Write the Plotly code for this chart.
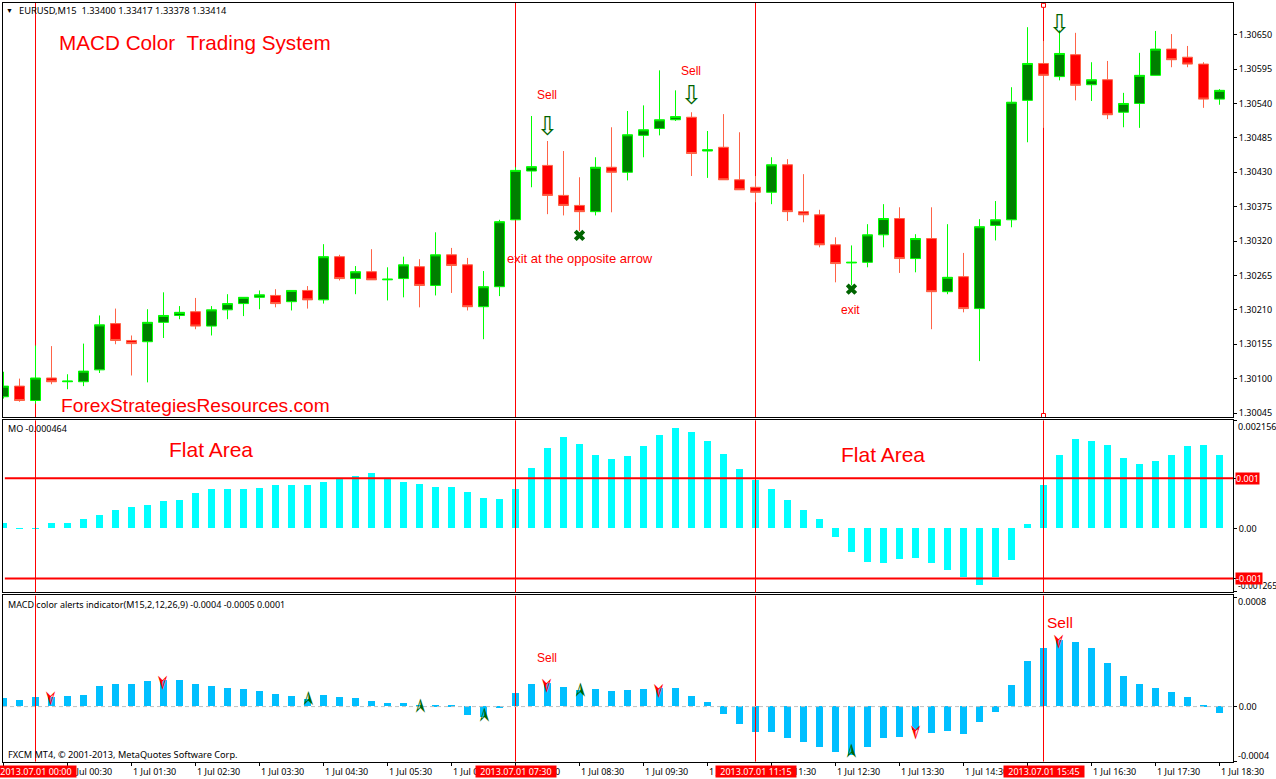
import plotly.graph_objects as go
from plotly.subplots import make_subplots

W, H = 1276, 779
PLOT_H = 776.4  # plot area comes out a bit shorter than the window

# candle data, one value per 15 min bar
opens = [1.30071,1.30088,1.30065,1.30101,1.30095,1.30095,1.30114,1.30188,1.30161,1.30159,1.30190,1.30201,1.30207,1.30184,1.30210,1.30220,1.30230,1.30233,1.30223,1.30241,
         1.30226,1.30295,1.30260,1.30271,1.30258,1.30260,1.30279,1.30249,1.30298,1.30282,1.30215,1.30247,1.30354,1.30432,1.30441,1.30393,1.30377,1.30367,1.30438,1.30430,
         1.30489,1.30500,1.30514,1.30518,1.30464,1.30470,1.30418,1.30406,1.30398,1.30442,1.30367,1.30362,1.30314,1.30285,1.30286,1.30330,1.30356,1.30292,1.30324,1.30239,
         1.30263,1.30212,1.30345,1.30354,1.30545,1.30604,1.30583,1.30618,1.30570,1.30578,1.30526,1.30540,1.30585,1.30627,1.30614,1.30603,1.30547]
highs = [1.30111,1.30100,1.30153,1.30152,1.30107,1.30156,1.30201,1.30212,1.30169,1.30211,1.30238,1.30216,1.30229,1.30216,1.30235,1.30230,1.30241,1.30243,1.30241,1.30248,
         1.30315,1.30298,1.30280,1.30307,1.30278,1.30295,1.30291,1.30334,1.30309,1.30293,1.30272,1.30354,1.30438,1.30520,1.30480,1.30464,1.30422,1.30454,1.30502,1.30528,
         1.30537,1.30593,1.30561,1.30526,1.30496,1.30523,1.30494,1.30424,1.30454,1.30451,1.30427,1.30370,1.30326,1.30313,1.30347,1.30379,1.30374,1.30331,1.30374,1.30347,
         1.30301,1.30355,1.30384,1.30566,1.30662,1.30640,1.30657,1.30653,1.30606,1.30608,1.30557,1.30621,1.30656,1.30651,1.30632,1.30606,1.30563]
lows = [1.30068,1.30063,1.30060,1.30091,1.30083,1.30088,1.30109,1.30155,1.30105,1.30094,1.30165,1.30195,1.30179,1.30169,1.30195,1.30200,1.30211,1.30214,1.30209,1.30212,
        1.30220,1.30257,1.30235,1.30258,1.30225,1.30230,1.30214,1.30233,1.30237,1.30209,1.30163,1.30232,1.30354,1.30406,1.30363,1.30361,1.30336,1.30361,1.30366,1.30417,
        1.30454,1.30489,1.30512,1.30424,1.30421,1.30418,1.30402,1.30382,1.30379,1.30352,1.30350,1.30310,1.30254,1.30249,1.30278,1.30310,1.30269,1.30270,1.30179,1.30235,
        1.30206,1.30128,1.30321,1.30342,1.30478,1.30501,1.30577,1.30545,1.30544,1.30515,1.30502,1.30501,1.30585,1.30598,1.30598,1.30533,1.30538]
closes = [1.30088,1.30065,1.30101,1.30095,1.30096,1.30112,1.30186,1.30161,1.30156,1.30190,1.30201,1.30206,1.30184,1.30210,1.30220,1.30230,1.30234,1.30220,1.30241,1.30226,
          1.30295,1.30260,1.30271,1.30258,1.30259,1.30282,1.30249,1.30298,1.30281,1.30215,1.30247,1.30351,1.30433,1.30439,1.30393,1.30377,1.30367,1.30438,1.30430,1.30490,
          1.30498,1.30514,1.30519,1.30460,1.30466,1.30418,1.30402,1.30398,1.30442,1.30367,1.30362,1.30314,1.30284,1.30286,1.30330,1.30356,1.30292,1.30324,1.30239,1.30262,
          1.30212,1.30343,1.30354,1.30542,1.30604,1.30585,1.30620,1.30569,1.30578,1.30522,1.30540,1.30585,1.30627,1.30610,1.30603,1.30547,1.30561]
bars = list(range(len(opens)))

# momentum histogram
mo = [0.00010,-0.00001,-0.00001,0.00010,0.00010,0.00018,0.00026,0.00036,0.00042,0.00046,0.00054,0.00056,0.00070,0.00078,0.00078,0.00078,0.00080,0.00086,0.00086,0.00086,
      0.00092,0.00098,0.00104,0.00110,0.00098,0.00092,0.00088,0.00082,0.00082,0.00072,0.00060,0.00058,0.00078,0.00120,0.00160,0.00182,0.00168,0.00146,0.00138,0.00144,
      0.00164,0.00186,0.00200,0.00192,0.00174,0.00148,0.00118,0.00096,0.00078,0.00056,0.00036,0.00018,-0.00018,-0.00048,-0.00068,-0.00070,-0.00062,-0.00060,-0.00070,-0.00084,
      -0.00098,-0.00114,-0.00098,-0.00064,0.00008,0.00086,0.00146,0.00178,0.00174,0.00166,0.00140,0.00128,0.00134,0.00146,0.00164,0.00166,0.00146]
# macd histogram
macd = [0.000060,0.000046,0.000068,0.000070,0.000075,0.000083,0.000148,0.000163,0.000163,0.000185,0.000192,0.000192,0.000163,0.000148,0.000134,0.000126,0.000112,0.000090,0.000075,0.000053,
        0.000083,0.000068,0.000060,0.000039,0.000024,0.000024,0.000005,0.000003,0.000003,-0.000063,-0.000080,-0.000012,0.000097,0.000163,0.000170,0.000141,0.000120,0.000126,0.000112,0.000119,
        0.000126,0.000130,0.000134,0.000075,0.000032,-0.000056,-0.000129,-0.000187,-0.000187,-0.000231,-0.000260,-0.000296,-0.000333,-0.000355,-0.000296,-0.000231,-0.000224,-0.000175,-0.000194,-0.000180,
        -0.000202,-0.000114,-0.000041,0.000156,0.000330,0.000425,0.000484,0.000469,0.000425,0.000316,0.000221,0.000163,0.000134,0.000104,0.000068,0.000002,-0.000049]

price_ticks = [1.30045,1.30100,1.30155,1.30210,1.30265,1.30320,1.30375,1.30430,1.30485,1.30540,1.30595,1.30650]
time_tick_bars = [4,8,12,16,20,24,28,32,36,40,44,48,52,56,60,64,68,72,76]
time_tick_labels = ["1 Jul 00:30","1 Jul 01:30","1 Jul 02:30","1 Jul 03:30","1 Jul 04:30","1 Jul 05:30","1 Jul 06:30","1 Jul 07:30","1 Jul 08:30","1 Jul 09:30",
                    "1 Jul 10:30","1 Jul 11:30","1 Jul 12:30","1 Jul 13:30","1 Jul 14:30","1 Jul 15:30","1 Jul 16:30","1 Jul 17:30","1 Jul 18:30"]

vline_bars = [2,32,47,65]
vline_labels = ["2013.07.01 00:00","2013.07.01 07:30","2013.07.01 11:15","2013.07.01 15:45"]
mo_levels = [0.001,-0.001]

sell_arrow_bars = [34,43,66]
sell_arrow_prices = [1.30500,1.30549,1.30663]
exit_bars = [36,53]
exit_prices = [1.30329,1.30243]
handle_bars = [65,65]
handle_prices = [1.30697,1.30041]

# arrow centres on the macd panel
macd_sell_bars = [3,10,34,41,57,66]
macd_sell_vals = [0.000066,0.000182,0.000160,0.000122,-0.000182,0.000481]
macd_buy_bars = [19,26,30,36,53]
macd_buy_vals = [0.000056,0.0,-0.000066,0.000117,-0.000328]

FONT = "Noto Sans"
ARIAL = "Liberation Sans"

# panel edges in pixels from the top of the window
LEFT, RIGHT = 3, 1233
P1 = (3, 417)
P2 = (420, 592)
P3 = (595, 761)


def px(x):
    return x / W


def py(y):
    return 1 - y / PLOT_H


fig = make_subplots(rows=3, cols=1, shared_xaxes=True, vertical_spacing=0.01)

fig.add_trace(go.Candlestick(x=bars, open=opens, high=highs, low=lows, close=closes,
                             increasing=dict(line=dict(color="#00ff00", width=1), fillcolor="#008000"),
                             decreasing=dict(line=dict(color="#ff6347", width=1), fillcolor="#ff0000"),
                             whiskerwidth=0), row=1, col=1)
fig.add_trace(go.Scatter(x=sell_arrow_bars, y=sell_arrow_prices, mode="text", text=["\u21e9"] * 3,
                         textposition="middle center",
                         textfont=dict(family="DejaVu Sans", size=26, color="#006400")), row=1, col=1)
fig.add_trace(go.Scatter(x=exit_bars, y=exit_prices, mode="markers",
                         marker=dict(symbol="x", size=10, color="#006400", line=dict(width=0))), row=1, col=1)
fig.add_trace(go.Scatter(x=handle_bars, y=handle_prices, mode="markers", cliponaxis=False,
                         marker=dict(symbol="square", size=4, color="white", line=dict(color="red", width=1))), row=1, col=1)

fig.add_trace(go.Bar(x=bars, y=mo, width=0.4375, marker=dict(color="#00ffff", line=dict(width=0))), row=2, col=1)

fig.add_trace(go.Bar(x=bars, y=macd, width=0.4375, marker=dict(color="#00bfff", line=dict(width=0))), row=3, col=1)

# vertical separators: behind the candles, over the histograms
for b in vline_bars:
    fig.add_shape(type="line", xref="x", yref="y domain", x0=b, x1=b, y0=0, y1=1,
                  line=dict(color="red", width=1), layer="below")
    fig.add_shape(type="line", xref="x2", yref="y2 domain", x0=b, x1=b, y0=0, y1=1,
                  line=dict(color="red", width=1))
    fig.add_shape(type="line", xref="x3", yref="y3 domain", x0=b, x1=b, y0=0, y1=1,
                  line=dict(color="red", width=1))

for lvl in mo_levels:
    fig.add_shape(type="line", xref="x2 domain", yref="y2", x0=0.0015, x1=1, y0=lvl, y1=lvl,
                  line=dict(color="red", width=2))
fig.add_shape(type="line", xref="x3 domain", yref="y3", x0=0, x1=1, y0=0, y1=0,
              line=dict(color="#c0c0c0", width=1, dash="4px,3px"))


def label(text, x, y, size, color="black", family=ARIAL, anchor="left"):
    fig.add_annotation(text=text, xref="paper", yref="paper", x=px(x), y=py(y), xanchor=anchor,
                       yanchor="middle", showarrow=False, borderpad=0,
                       font=dict(family=family, size=size, color=color))


# macd arrowheads, turned to point down for sell and up for buy
for b, val in zip(macd_sell_bars, macd_sell_vals):
    fig.add_annotation(text="\u27a2", xref="x3", yref="y3", x=b, y=val, showarrow=False, textangle=90,
                       font=dict(family="DejaVu Sans", size=21, color="#ff0000"))
for b, val in zip(macd_buy_bars, macd_buy_vals):
    fig.add_annotation(text="\u27a2", xref="x3", yref="y3", x=b, y=val, showarrow=False, textangle=-90,
                       font=dict(family="DejaVu Sans", size=21, color="#006400"))

# panel captions
label("\u25bc", 5, 10, 7)
label("EURUSD,M15\u00a0\u00a01.33400 1.33417 1.33378 1.33414", 18, 10, 9.3, family=FONT)
label("MO -0.000464", 7, 428, 9, family=FONT)
label("MACD color alerts indicator(M15,2,12,26,9) -0.0004 -0.0005 0.0001", 7, 604, 9, family=FONT)
label("FXCM MT4, \u00a9 2001-2013, MetaQuotes Software Corp.", 7, 754, 9.2, family=FONT)

# red notes on the chart
label("MACD Color\u00a0\u00a0Trading System", 58, 42, 20.7, "red")
label("ForexStrategiesResources.com", 60, 405, 19.2, "red")
label("Sell", 536, 95, 12, "red")
label("Sell", 680, 71, 12, "red")
label("exit at the opposite arrow", 506, 258, 13, "red")
label("exit", 840, 310, 12, "red")
label("Flat Area", 168, 449, 21, "red")
label("Flat Area", 840, 454, 21, "red")
label("Sell", 536, 657, 12, "red")
label("Sell", 1046, 622, 15.5, "red")

# right hand scale texts placed off their ticks
label("0.002156", 1237, 426, 9, family=FONT)
label("-0.001265", 1236.5, 585, 8.5, family=FONT)
label("0.0008", 1237, 601.5, 9, family=FONT)
label("-0.0004", 1237, 755, 9, family=FONT)

for txt, val in zip(["0.001", "-0.001"], mo_levels):
    fig.add_annotation(text=txt, xref="paper", yref="y2", x=px(1235), y=val, xanchor="left", yanchor="middle",
                       showarrow=False, bgcolor="red", borderpad=0, height=11,
                       font=dict(family=FONT, size=9, color="white"))

# time labels start at their tick, date flags sit on top of them
for b, txt in zip(time_tick_bars, time_tick_labels):
    fig.add_annotation(text=txt, xref="x3", yref="paper", x=b, y=py(771), xanchor="left", yanchor="middle",
                       showarrow=False, borderpad=0, font=dict(family=FONT, size=9, color="black"))
for b, txt in zip(vline_bars, vline_labels):
    fig.add_annotation(text=txt, xref="x3", yref="paper", x=b, y=py(770.5), xanchor="center", yanchor="middle",
                       showarrow=False, bgcolor="red", borderpad=0, width=80, height=11,
                       font=dict(family=FONT, size=9, color="white"))

x_range = [(LEFT - 3.5) / 16, (RIGHT - 3.5) / 16]
frame = dict(showline=True, mirror=True, linecolor="black", linewidth=1, showgrid=False, zeroline=False)

fig.update_xaxes(range=x_range, domain=[px(LEFT), px(RIGHT)], showticklabels=False, ticks="",
                 rangeslider_visible=False, **frame)
fig.update_xaxes(ticks="outside", ticklen=3, tickcolor="black", tickmode="array",
                 tickvals=[0] + time_tick_bars, row=3, col=1)
fig.update_yaxes(side="right", ticks="outside", ticklen=3, tickcolor="black",
                 tickfont=dict(family=FONT, size=9, color="black"), tickmode="array", **frame)
fig.update_yaxes(range=[1.300381, 1.307007], domain=[py(P1[1]), py(P1[0])], tickvals=price_ticks,
                 tickformat=".5f", row=1, col=1)
fig.update_yaxes(range=[-0.00128, 0.00216], domain=[py(P2[1]), py(P2[0])],
                 tickvals=[0.002156, 0.001, 0, -0.001, -0.001265], ticktext=["", "", "0.00", "", ""], row=2, col=1)
fig.update_yaxes(range=[-0.000402, 0.000812], domain=[py(P3[1]), py(P3[0])],
                 tickvals=[0.0008, 0, -0.0004], ticktext=["", "0.00", ""], row=3, col=1)

fig.update_layout(width=W, height=H, margin=dict(l=0, r=0, t=0, b=0), paper_bgcolor="white",
                  plot_bgcolor="white", showlegend=False, barmode="overlay", bargap=0,
                  boxgap=0.107, boxgroupgap=0.3)
fig.write_html("out.html", config={"displayModeBar": False},
               post_script="document.body.style.margin='0';")
